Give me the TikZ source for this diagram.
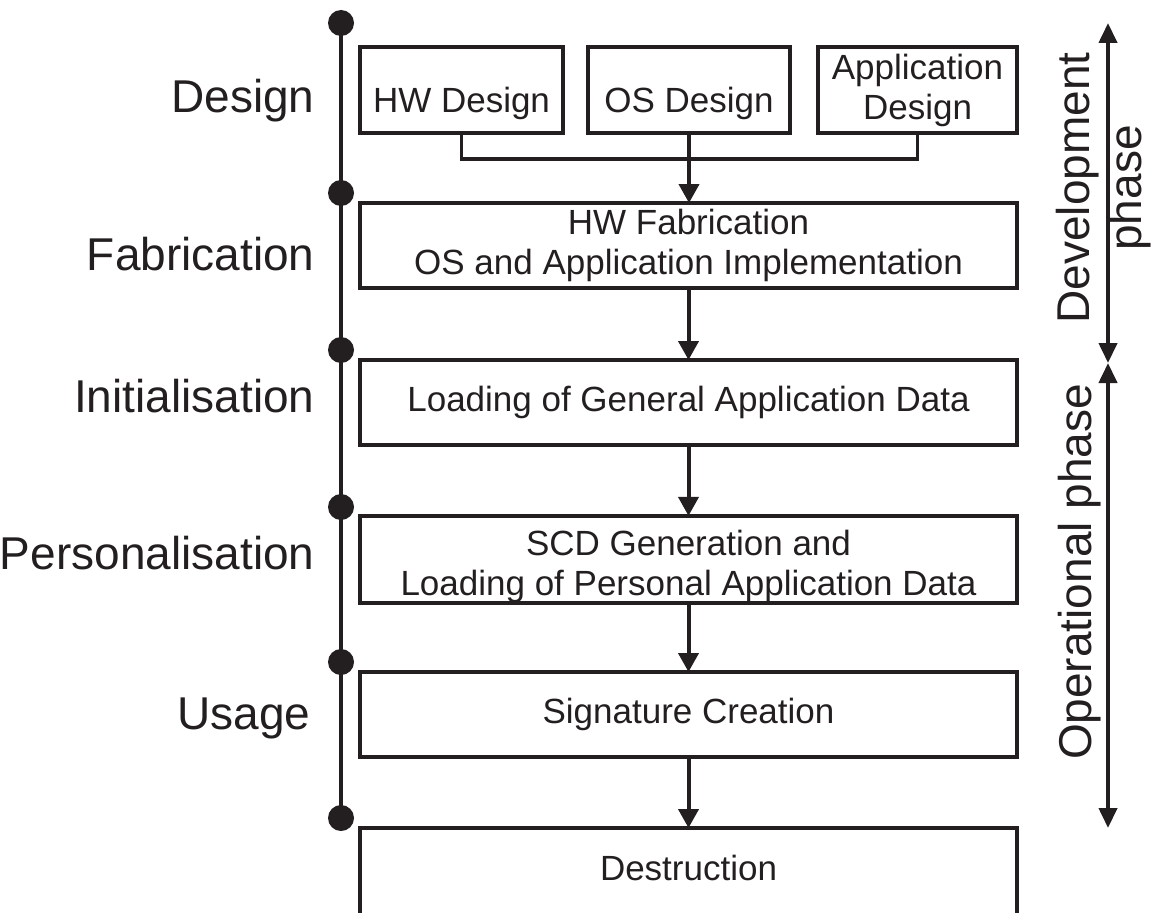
\documentclass[tikz,border=0pt]{standalone}
\usepackage{fontspec}
\setmainfont{Liberation Sans}
\usetikzlibrary{arrows.meta, positioning}
\definecolor{lineblack}{HTML}{231F20}

\begin{document}
\begin{tikzpicture}[x=1pt, y=-1pt,
    stagebox/.style={draw=lineblack, line width=3.5pt, inner sep=0pt, outer sep=0pt,
      minimum height=86pt, align=center, text=lineblack, font=\fontsize{35}{40}\selectfont},
    stagelabel/.style={anchor=base east, text=lineblack, font=\fontsize{46}{52}\selectfont},
    phaselabel/.style={rotate=90, align=center, text=lineblack, font=\fontsize{46}{52}\selectfont},
    dot/.style={circle, fill=lineblack, inner sep=0pt, minimum size=26pt},
    flow/.style={draw=lineblack, line width=4pt, -{Triangle[length=19pt,width=20pt]}},
    span/.style={draw=lineblack, line width=4pt, {Triangle[length=20pt,width=18pt]}-{Triangle[length=20pt,width=18pt]}}]
  \useasboundingbox (0,0) rectangle (1155,912);
  \clip (0,0) rectangle (1155,912);

  % timeline with stage dots
  \foreach \y [count=\i] in {23,193,350,507,662,818}
    \node[dot] (d\i) at (341,\y) {};
  \draw[draw=lineblack, line width=4pt] (d1.center) -- (d6.center);

  % stage names
  \node[stagelabel] at (318,113) {Design};
  \node[stagelabel] at (318,270) {Fabrication};
  \node[stagelabel] at (318,412) {Initialisation};
  \node[stagelabel] at (318,569) {Personalisation};
  \node[stagelabel] at (314,729) {Usage};

  % design boxes
  \node[stagebox, minimum width=203pt, text height=46pt, text depth=0pt] (hw) at (461.5,90) {HW Design};
  \node[stagebox, minimum width=202pt, text height=46pt, text depth=0pt] (os) at (689,90) {OS Design};
  \node[stagebox, minimum width=199pt] (app) at (917.5,90) {Application\\Design};

  % life cycle boxes
  \node[stagebox, minimum width=657pt, minimum height=85pt] (fab) at (688.5,245.5)
    {HW Fabrication\\OS and Application Implementation};
  \node[stagebox, minimum width=657pt, minimum height=85pt] (init) at (688.5,402.5)
    {Loading of General Application Data};
  \node[stagebox, minimum width=657pt, minimum height=83pt] (pers) at (688.5,559.5)
    {\rule{0pt}{40pt}SCD Generation and\\Loading of Personal Application Data};
  \node[stagebox, minimum width=657pt, minimum height=85pt] (usage) at (688.5,714.5)
    {Signature Creation};
  \node[stagebox, minimum width=657pt, minimum height=110pt, text height=25pt, text depth=31pt] (destr) at (688.5,883)
    {Destruction};

  % connectors
  \draw[draw=lineblack, line width=3.5pt] (hw.south) -- ++(0,26) -| (app.south);
  \draw[flow] (os.south) -- (os.south |- fab.north);
  \draw[flow] (fab) -- (init);
  \draw[flow] (init) -- (pers);
  \draw[flow] (pers) -- (usage);
  \draw[flow] (usage) -- (destr);

  % phases
  \coordinate (devtop) at (1108,23);
  \coordinate (phasemid) at (1108,363);
  \coordinate (opbottom) at (1108,828);
  \draw[span] (devtop) -- (phasemid);
  \draw[span] (phasemid) -- (opbottom);
  \node[phaselabel] at (1104,188) {Development\\phase};
  \node[phaselabel] at (1080,572) {Operational phase};
\end{tikzpicture}
\end{document}
